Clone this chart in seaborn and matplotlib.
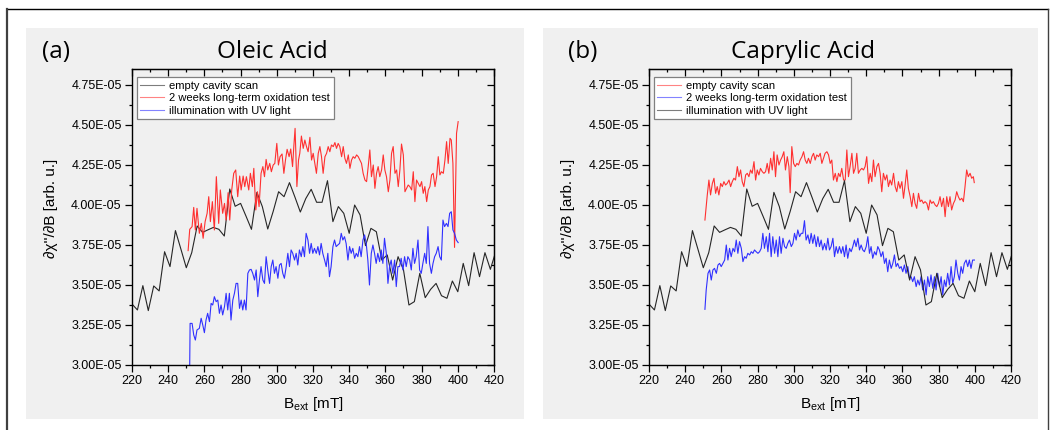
import numpy as np
import matplotlib
matplotlib.use("Agg")
import matplotlib.pyplot as plt
import seaborn as sns
from matplotlib.ticker import MultipleLocator, FuncFormatter, NullFormatter
from matplotlib.patches import Rectangle
from matplotlib.lines import Line2D

# ---------------- data (values in units of 1E-05) ----------------
# empty cavity scan (same trace in both panels)
cav_x = [220, 223, 226, 229, 232, 235, 238, 241, 244, 247,
         250, 253, 256, 259, 262, 265, 268, 271, 274, 277,
         280, 283, 286, 289, 292, 295, 298, 301, 304, 307,
         310, 313, 316, 319, 322, 325, 328, 331, 334, 337,
         340, 343, 346, 349, 352, 355, 358, 361, 364, 367,
         370, 373, 376, 379, 382, 385, 388, 391, 394, 397,
         400, 403, 406, 409, 412, 415, 418, 421]
cav_y = [3.381, 3.344, 3.496, 3.340, 3.494, 3.463, 3.708, 3.615, 3.840, 3.725,
         3.608, 3.702, 3.869, 3.829, 3.845, 3.860, 3.848, 3.806, 4.100, 3.992,
         4.010, 3.930, 3.848, 4.079, 3.990, 3.850, 3.960, 4.083, 4.052, 4.140,
         4.050, 3.956, 4.040, 4.098, 4.017, 4.017, 4.152, 3.896, 3.990, 3.948,
         3.823, 4.000, 3.938, 3.746, 3.854, 3.833, 3.656, 3.688, 3.531, 3.677,
         3.594, 3.375, 3.396, 3.573, 3.421, 3.473, 3.510, 3.433, 3.417, 3.525,
         3.458, 3.635, 3.496, 3.702, 3.552, 3.702, 3.598, 3.710]

# Oleic acid: 2 weeks long-term oxidation test (red)
ole_ox_x = [251.0, 251.9, 253.2, 254.1, 255.0, 255.9, 257.2, 258.3, 259.3, 260.4,
            261.5, 262.4, 263.3, 264.4, 265.5, 266.6, 267.9, 268.8, 270.1, 271.1,
            272.0, 273.1, 274.0, 275.1, 276.2, 277.3, 278.4, 279.5, 280.3, 281.4,
            282.3, 283.2, 284.5, 285.4, 286.5, 287.3, 288.4, 289.3, 290.2, 291.3,
            292.3, 293.2, 294.1, 295.0, 296.1, 297.0, 298.0, 298.9, 300.0, 300.9,
            301.8, 302.9, 303.9, 304.8, 305.7, 306.8, 307.7, 308.7, 309.4, 310.1,
            311.1, 312.0, 312.7, 313.6, 314.6, 315.5, 316.4, 317.3, 318.3, 319.2,
            320.1, 321.0, 321.9, 322.9, 323.8, 324.7, 325.6, 326.6, 327.5, 328.4,
            329.3, 330.2, 331.2, 332.1, 333.0, 333.9, 334.8, 335.8, 336.7, 337.6,
            338.5, 339.5, 340.4, 341.3, 342.2, 343.1, 344.1, 345.0, 345.9, 346.8,
            347.7, 348.7, 349.6, 350.5, 351.4, 352.3, 353.3, 354.2, 355.1, 356.0,
            356.9, 357.9, 358.8, 359.7, 360.6, 361.6, 362.5, 363.4, 364.3, 365.3,
            366.2, 367.1, 368.0, 368.9, 369.9, 370.8, 371.7, 372.6, 373.5, 374.5,
            375.4, 376.3, 377.2, 378.2, 379.1, 380.0, 380.9, 381.8, 382.8, 383.7,
            384.6, 385.5, 386.4, 387.4, 388.3, 389.2, 390.1, 391.0, 392.0, 392.9,
            393.8, 394.7, 395.7, 396.4, 397.3, 398.2, 399.3, 400.2]
ole_ox_y = [3.715, 3.848, 3.865, 3.985, 3.844, 3.979, 3.823, 3.885, 3.792, 3.896,
            3.948, 4.052, 3.896, 4.021, 3.844, 4.177, 3.885, 4.094, 3.948, 4.010,
            3.906, 4.077, 3.906, 4.094, 4.198, 4.219, 4.052, 4.181, 4.094, 4.181,
            4.115, 4.177, 4.094, 4.198, 4.115, 4.229, 3.969, 4.083, 3.990, 4.198,
            4.240, 4.177, 4.285, 4.219, 4.260, 4.208, 4.250, 4.260, 4.385, 4.250,
            4.302, 4.319, 4.198, 4.281, 4.348, 4.302, 4.350, 4.240, 4.365, 4.479,
            4.115, 4.281, 4.323, 4.431, 4.354, 4.406, 4.365, 4.333, 4.423, 4.281,
            4.323, 4.260, 4.198, 4.323, 4.365, 4.302, 4.198, 4.302, 4.323, 4.365,
            4.333, 4.375, 4.365, 4.390, 4.354, 4.385, 4.365, 4.302, 4.365, 4.292,
            4.260, 4.313, 4.229, 4.281, 4.302, 4.292, 4.313, 4.302, 4.281, 4.260,
            4.198, 4.156, 4.146, 4.240, 4.344, 4.177, 4.250, 4.104, 4.198, 4.240,
            4.177, 4.219, 4.313, 4.219, 4.177, 4.083, 4.156, 4.323, 4.365, 4.198,
            4.219, 4.115, 4.219, 4.381, 4.313, 4.083, 4.104, 4.125, 4.115, 4.094,
            4.208, 4.021, 4.156, 4.135, 4.115, 4.146, 4.073, 4.115, 4.021, 4.094,
            4.115, 4.188, 4.198, 4.115, 4.177, 4.302, 4.188, 4.208, 4.198, 4.281,
            4.396, 4.260, 4.417, 4.406, 4.260, 3.735, 4.448, 4.521]

# Oleic acid: illumination with UV light (blue)
ole_uv_x = [251.8,
            252.1, 253.2, 254.1, 255.0, 255.9, 257.2, 258.2, 259.1, 260.0, 260.9,
            261.8, 262.8, 263.7, 264.6, 265.5, 266.5, 267.4, 268.3, 269.2, 270.1,
            271.1, 272.0, 272.9, 273.8, 274.7, 275.7, 276.6, 277.5, 278.4, 279.4,
            280.3, 281.2, 282.1, 283.0, 284.0, 284.9, 285.8, 286.7, 287.7, 288.6,
            289.5, 290.4, 291.3, 292.3, 293.2, 294.1, 295.0, 296.0, 296.9, 297.8,
            298.7, 299.6, 300.6, 301.5, 302.4, 303.3, 304.2, 305.2, 306.1, 307.0,
            307.9, 308.8, 309.8, 310.7, 311.6, 312.5, 313.5, 314.4, 315.3, 316.2,
            317.2, 318.1, 319.0, 319.9, 320.8, 321.8, 322.7, 323.6, 324.5, 325.4,
            326.4, 327.3, 328.2, 329.1, 330.0, 331.0, 331.9, 332.8, 333.7, 334.7,
            335.6, 336.5, 337.4, 338.3, 339.3, 340.2, 341.1, 342.0, 343.0, 343.9,
            344.8, 345.7, 346.6, 347.6, 348.5, 349.4, 350.3, 351.2, 352.2, 353.1,
            354.0, 354.9, 355.8, 356.8, 357.7, 358.6, 359.5, 360.5, 361.4, 362.3,
            363.2, 364.1, 365.1, 366.0, 366.9, 367.8, 368.7, 369.7, 370.6, 371.5,
            372.4, 373.4, 374.3, 375.2, 376.1, 377.0, 378.0, 378.9, 379.8, 380.7,
            381.7, 382.6, 383.5, 384.4, 385.4, 386.3, 387.2, 388.1, 389.1, 390.0,
            390.9, 391.8, 392.7, 393.7, 394.6, 395.5, 396.4, 397.3, 398.2, 399.2,
            400.2]
ole_uv_y = [2.900,
            3.260, 3.260, 3.188, 3.156, 3.219, 3.229, 3.292, 3.250, 3.202, 3.281,
            3.323, 3.271, 3.385, 3.375, 3.427, 3.396, 3.406, 3.323, 3.375, 3.313,
            3.365, 3.448, 3.344, 3.448, 3.281, 3.406, 3.448, 3.510, 3.510, 3.354,
            3.406, 3.344, 3.406, 3.344, 3.573, 3.594, 3.598, 3.573, 3.531, 3.594,
            3.427, 3.531, 3.615, 3.531, 3.510, 3.677, 3.594, 3.510, 3.615, 3.656,
            3.573, 3.615, 3.542, 3.625, 3.635, 3.573, 3.542, 3.615, 3.698, 3.615,
            3.719, 3.698, 3.656, 3.698, 3.625, 3.719, 3.677, 3.740, 3.677, 3.823,
            3.781, 3.698, 3.760, 3.698, 3.729, 3.698, 3.740, 3.688, 3.760, 3.698,
            3.656, 3.615, 3.698, 3.552, 3.615, 3.740, 3.781, 3.740, 3.750, 3.760,
            3.823, 3.781, 3.802, 3.760, 3.656, 3.740, 3.698, 3.729, 3.667, 3.698,
            3.677, 3.740, 3.677, 3.781, 3.813, 3.760, 3.656, 3.500, 3.698, 3.750,
            3.698, 3.635, 3.698, 3.646, 3.719, 3.635, 3.792, 3.698, 3.510, 3.615,
            3.656, 3.573, 3.656, 3.490, 3.615, 3.615, 3.667, 3.594, 3.677, 3.615,
            3.677, 3.656, 3.594, 3.729, 3.635, 3.677, 3.781, 3.594, 3.573, 3.635,
            3.698, 3.635, 3.865, 3.635, 3.573, 3.635, 3.677, 3.698, 3.740, 3.677,
            3.656, 3.906, 3.865, 3.885, 3.865, 3.948, 3.958, 3.844, 3.823, 3.781,
            3.765]

# Caprylic acid: red trace
cap_red_x = [250.9, 252.2, 253.1, 254.0, 255.0, 255.9, 256.8, 257.7, 258.6, 259.6,
             260.5, 261.4, 262.3, 263.2, 264.2, 265.1, 266.0, 266.9, 267.8, 268.8,
             269.7, 270.6, 271.5, 272.4, 273.4, 274.3, 275.2, 276.1, 277.0, 278.0,
             278.9, 279.8, 280.7, 281.6, 282.6, 283.5, 284.4, 285.3, 286.2, 287.2,
             288.1, 289.0, 289.9, 290.8, 291.8, 292.7, 293.6, 294.5, 295.4, 296.4,
             297.3, 298.0, 298.9, 299.9, 300.8, 301.7, 302.6, 303.5, 304.5, 305.4,
             306.3, 307.2, 308.1, 309.1, 310.0, 310.9, 311.8, 312.7, 313.7, 314.6,
             315.5, 316.4, 317.3, 318.3, 319.2, 320.1, 321.0, 321.9, 322.9, 323.8,
             324.7, 325.6, 326.5, 327.5, 328.4, 329.3, 330.2, 331.1, 332.1, 333.0,
             333.9, 334.8, 335.7, 336.7, 337.6, 338.5, 339.4, 340.3, 341.3, 342.2,
             343.1, 344.0, 344.9, 345.9, 346.8, 347.7, 348.6, 349.5, 350.5, 351.4,
             352.3, 353.2, 354.1, 355.1, 356.0, 356.9, 357.8, 358.7, 359.7, 360.6,
             361.5, 362.4, 363.3, 364.3, 365.2, 366.1, 367.0, 367.9, 368.9, 369.8,
             370.7, 371.6, 372.5, 373.5, 374.4, 375.3, 376.2, 377.1, 378.1, 379.0,
             379.9, 380.8, 381.7, 382.7, 383.6, 384.5, 385.4, 386.3, 387.2, 388.2,
             389.1, 390.0, 390.9, 391.8, 392.8, 393.7, 394.6, 395.5, 396.4, 397.4,
             398.3, 399.2, 399.7]
cap_red_y = [3.906, 4.063, 4.156, 4.063, 4.135, 4.167, 4.073, 4.115, 4.063, 4.135,
             4.115, 4.146, 4.125, 4.135, 4.156, 4.115, 4.146, 4.167, 4.156, 4.240,
             4.177, 4.219, 4.146, 4.115, 4.188, 4.198, 4.177, 4.219, 4.198, 4.271,
             4.156, 4.219, 4.188, 4.229, 4.208, 4.198, 4.208, 4.260, 4.198, 4.292,
             4.219, 4.333, 4.177, 4.313, 4.250, 4.281, 4.302, 4.333, 4.219, 4.302,
             4.240, 4.077, 4.365, 4.260, 4.240, 4.260, 4.250, 4.281, 4.302, 4.333,
             4.281, 4.260, 4.292, 4.260, 4.302, 4.323, 4.281, 4.313, 4.302, 4.323,
             4.260, 4.292, 4.323, 4.333, 4.313, 4.260, 4.281, 4.156, 4.198, 4.146,
             4.198, 4.177, 4.229, 4.156, 4.156, 4.344, 4.177, 4.240, 4.323, 4.198,
             4.229, 4.323, 4.198, 4.219, 4.229, 4.219, 4.240, 4.302, 4.135, 4.198,
             4.146, 4.281, 4.177, 4.240, 4.260, 4.198, 4.083, 4.198, 4.156, 4.188,
             4.115, 4.156, 4.125, 4.198, 4.115, 4.083, 4.146, 4.104, 4.146, 4.042,
             4.125, 4.219, 4.104, 4.052, 3.990, 4.073, 4.010, 3.979, 4.073, 4.021,
             4.031, 4.010, 4.021, 4.010, 3.969, 4.031, 4.010, 4.021, 4.000, 3.990,
             4.010, 4.052, 3.990, 4.042, 3.927, 4.052, 3.990, 4.052, 3.969, 4.010,
             4.031, 4.083, 4.052, 4.031, 4.042, 4.021, 4.115, 4.219, 4.177, 4.198,
             4.167, 4.177, 4.140]

# Caprylic acid: blue trace
cap_blue_x = [250.9, 251.6, 252.6, 253.5, 254.4, 255.3, 256.2, 257.2, 258.1, 259.0,
              259.9, 260.8, 261.8, 262.7, 263.6, 264.5, 265.4, 266.4, 267.3, 268.2,
              269.1, 270.0, 271.0, 271.9, 272.8, 273.7, 274.6, 275.6, 276.5, 277.4,
              278.3, 279.2, 280.2, 281.1, 282.0, 282.9, 283.8, 284.8, 285.7, 286.6,
              287.5, 288.4, 289.4, 290.3, 291.2, 292.1, 293.0, 294.0, 294.9, 295.8,
              296.7, 297.6, 298.6, 299.5, 300.4, 301.3, 302.2, 303.2, 304.1, 305.0,
              305.9, 306.8, 307.8, 308.7, 309.6, 310.5, 311.4, 312.4, 313.3, 314.2,
              315.1, 316.0, 317.0, 317.9, 318.8, 319.7, 320.6, 321.6, 322.5, 323.4,
              324.3, 325.2, 326.2, 327.1, 328.0, 328.9, 329.8, 330.8, 331.7, 332.6,
              333.5, 334.4, 335.4, 336.3, 337.2, 338.1, 339.0, 340.0, 340.9, 341.8,
              342.7, 343.6, 344.6, 345.5, 346.4, 347.3, 348.2, 349.2, 350.1, 351.0,
              351.9, 352.8, 353.8, 354.7, 355.6, 356.5, 357.4, 358.4, 359.3, 360.2,
              361.1, 362.0, 363.0, 363.9, 364.8, 365.7, 366.6, 367.6, 368.5, 369.4,
              370.3, 371.2, 372.2, 373.1, 374.0, 374.9, 375.8, 376.8, 377.7, 378.6,
              379.5, 380.5, 381.4, 382.3, 383.2, 384.1, 385.0, 386.0, 386.9, 387.8,
              388.7, 389.6, 390.6, 391.5, 392.4, 393.3, 394.2, 395.2, 396.1, 397.0,
              397.9, 398.8, 399.8]
cap_blue_y = [3.348, 3.469, 3.573, 3.594, 3.531, 3.594, 3.604, 3.573, 3.625, 3.635,
              3.615, 3.635, 3.656, 3.750, 3.656, 3.729, 3.677, 3.729, 3.708, 3.781,
              3.698, 3.771, 3.729, 3.646, 3.677, 3.667, 3.698, 3.688, 3.708, 3.698,
              3.719, 3.708, 3.698, 3.708, 3.729, 3.823, 3.729, 3.802, 3.708, 3.823,
              3.677, 3.802, 3.698, 3.781, 3.677, 3.802, 3.698, 3.792, 3.740, 3.729,
              3.760, 3.781, 3.740, 3.760, 3.823, 3.781, 3.844, 3.802, 3.823, 3.823,
              3.902, 3.781, 3.813, 3.760, 3.823, 3.760, 3.813, 3.740, 3.802, 3.740,
              3.781, 3.719, 3.760, 3.719, 3.792, 3.719, 3.740, 3.792, 3.677, 3.740,
              3.698, 3.740, 3.698, 3.740, 3.677, 3.750, 3.667, 3.729, 3.708, 3.740,
              3.781, 3.740, 3.792, 3.719, 3.750, 3.719, 3.708, 3.740, 3.802, 3.698,
              3.740, 3.667, 3.708, 3.688, 3.740, 3.719, 3.677, 3.708, 3.635, 3.667,
              3.583, 3.656, 3.604, 3.635, 3.688, 3.615, 3.635, 3.604, 3.615, 3.583,
              3.625, 3.573, 3.615, 3.542, 3.552, 3.521, 3.552, 3.490, 3.531, 3.500,
              3.552, 3.469, 3.531, 3.438, 3.552, 3.490, 3.563, 3.479, 3.552, 3.469,
              3.573, 3.490, 3.552, 3.438, 3.531, 3.490, 3.573, 3.500, 3.615, 3.510,
              3.552, 3.656, 3.573, 3.531, 3.615, 3.573, 3.635, 3.656, 3.615, 3.656,
              3.604, 3.656, 3.656]

panel_letters = ["(a)", "(b)"]
panel_titles = ["Oleic Acid", "Caprylic Acid"]
legend_labels = ["empty cavity scan", "2 weeks long-term oxidation test",
                 "illumination with UV light"]
x_label = "B$_{ext}$ [mT]"
y_label = "\u2202\u03c7''/\u2202B [arb. u.]"

# ---------------- styling ----------------
plt.rcParams['font.family'] = ['Liberation Sans', 'DejaVu Sans']
plt.rcParams['mathtext.default'] = 'regular'

W, H = 1055, 430
RED, BLUE, BLACK = '#ff3030', '#3030ff', '#262626'
PANEL = '#f0f0f0'
SC = 1e-5

fig = plt.figure(figsize=(W / 100, H / 100), dpi=100)
fig.patch.set_facecolor('white')

# outer frame
fig.add_artist(Line2D([7 / W, 1048 / W], [1 - 9 / H, 1 - 9 / H], transform=fig.transFigure,
                      color='black', lw=1.0))
fig.add_artist(Line2D([7 / W, 7 / W], [0, 1 - 9 / H], transform=fig.transFigure,
                      color='#404040', lw=1.6))
fig.add_artist(Line2D([1048 / W, 1048 / W], [0, 1 - 9 / H], transform=fig.transFigure,
                      color='#404040', lw=1.0))

panel_boxes = [(26, 524), (543, 1038)]
axes_left = [132, 649]
title_cx = [272.5, 803]
letter_cx = [56, 583]

def series(x, y):
    return np.asarray(x, float), np.asarray(y, float) * SC

panel_series = [
    [(cav_x, cav_y, BLACK), (ole_ox_x, ole_ox_y, RED), (ole_uv_x, ole_uv_y, BLUE)],
    [(cap_red_x, cap_red_y, RED), (cap_blue_x, cap_blue_y, BLUE), (cav_x, cav_y, BLACK)],
]

for i in range(2):
    x0, x1 = panel_boxes[i]
    fig.add_artist(Rectangle((x0 / W, 1 - 419 / H), (x1 - x0) / W, (419 - 28) / H,
                             transform=fig.transFigure, facecolor=PANEL,
                             edgecolor='none', zorder=-5))
    ax = fig.add_axes([axes_left[i] / W, 1 - 365 / H, 362 / W, 296 / H])
    ax.set_facecolor(PANEL)

    handles = []
    for (sx, sy, col), lab in zip(panel_series[i], legend_labels):
        xx, yy = series(sx, sy)
        sns.lineplot(x=xx, y=yy, ax=ax, color=col, lw=0.8, sort=False,
                     estimator=None, legend=False)
        handles.append(Line2D([], [], color=col, lw=0.8, alpha=0.6, label=lab))

    ax.set_xlim(220, 420)
    ax.set_ylim(3.0e-5, 4.85e-5)
    ax.xaxis.set_major_locator(MultipleLocator(20))
    ax.xaxis.set_minor_locator(MultipleLocator(10))
    ax.yaxis.set_major_locator(MultipleLocator(0.25e-5))
    ax.yaxis.set_minor_locator(MultipleLocator(0.125e-5))
    ax.yaxis.set_major_formatter(FuncFormatter(lambda v, p: f"{v:.2E}"))
    ax.tick_params(which='major', direction='out', length=5, width=0.9,
                   labelsize=9, pad=2.5)
    ax.tick_params(which='minor', direction='out', length=2.5, width=0.9)
    for s in ax.spines.values():
        s.set_linewidth(1.0)
        s.set_color('black')

    top = ax.secondary_xaxis('top')
    top.xaxis.set_major_locator(MultipleLocator(20))
    top.xaxis.set_minor_locator(MultipleLocator(10))
    top.xaxis.set_major_formatter(NullFormatter())
    top.tick_params(which='major', direction='in', length=5, width=0.9)
    top.tick_params(which='minor', direction='in', length=2.5, width=0.9)
    right = ax.secondary_yaxis('right')
    right.yaxis.set_major_locator(MultipleLocator(0.25e-5))
    right.yaxis.set_minor_locator(MultipleLocator(0.125e-5))
    right.yaxis.set_major_formatter(NullFormatter())
    right.tick_params(which='major', direction='in', length=5, width=0.9)
    right.tick_params(which='minor', direction='in', length=2.5, width=0.9)

    ax.set_xlabel(x_label, fontsize=11)
    ax.xaxis.set_label_coords(0.5, -0.10)
    ax.set_ylabel(y_label, fontsize=11)
    ax.yaxis.set_label_coords(-0.205, 0.53)

    leg = ax.legend(handles=handles, loc='upper left',
                    bbox_to_anchor=(0.013, 0.972), borderaxespad=0,
                    fontsize=8, frameon=True, fancybox=False, framealpha=1,
                    edgecolor='#808080', handlelength=2.2, handletextpad=0.45,
                    labelspacing=0.22, borderpad=0.3)
    leg.get_frame().set_linewidth(0.9)

    fig.text(title_cx[i] / W, 1 - 52 / H, panel_titles[i], ha='center', va='center',
             fontsize=17.5, family=['Open Sans', 'DejaVu Sans'])
    fig.text(letter_cx[i] / W, 1 - 52 / H, panel_letters[i], ha='center', va='center',
             fontsize=17.5, family=['Open Sans', 'DejaVu Sans'])

fig.savefig('out.png', dpi=100, facecolor='white')
